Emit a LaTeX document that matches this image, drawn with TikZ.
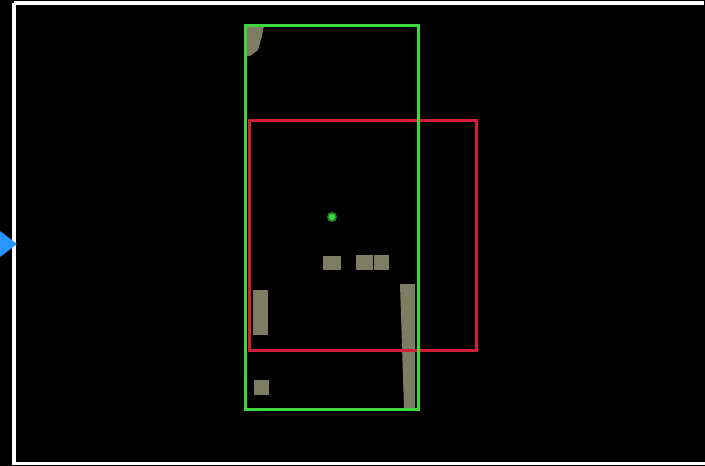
\documentclass[tikz,border=0pt]{standalone}
\definecolor{boxgreen}{RGB}{60,215,60}
\definecolor{boxred}{RGB}{210,30,55}
\definecolor{blobgray}{RGB}{125,125,100}
\definecolor{markblue}{RGB}{40,150,255}
\tikzset{
  frame/.style={draw=white,line width=4pt},
  greenbox/.style={draw=boxgreen,line width=3pt},
  redbox/.style={draw=boxred,line width=3pt},
  blob/.style={fill=blobgray},
}
\begin{document}
\begin{tikzpicture}[x=1pt,y=-1pt]
\useasboundingbox (0,0) rectangle (705,466);
\fill[black] (0,0) rectangle (705,466);
\draw[frame] (14,3) -- (704,3);
\draw[frame] (14,3) -- (14,463);
\fill[white] (12,462) rectangle (705,465);
% grey blobs
\fill[blob] (247,25) -- (264,25) -- (262,36) -- (258,50) -- (250,56) -- (247,56) -- cycle;
\fill[blob] (253,290) rectangle (268,335);
\fill[blob] (254,380) rectangle (269,395);
\fill[blob] (323,256) rectangle (341,270);
\fill[blob] (356,255) rectangle (373,270);
\fill[blob] (374,255) rectangle (389,270);
\fill[blob] (400,284) -- (415,284) -- (415,408) -- (404,408) -- cycle;
% red rectangle
\draw[redbox] (249,120) rectangle (476.5,350);
% green rectangle
\draw[greenbox] (245.5,25) rectangle (418,409.5);
% green dot
\fill[boxgreen!60!black] (332,217) circle (5);
\fill[boxgreen] (332,217) circle (3.2);
% blue marker
\fill[markblue] (0,231) -- (17,244) -- (0,257) -- cycle;
\end{tikzpicture}
\end{document}
